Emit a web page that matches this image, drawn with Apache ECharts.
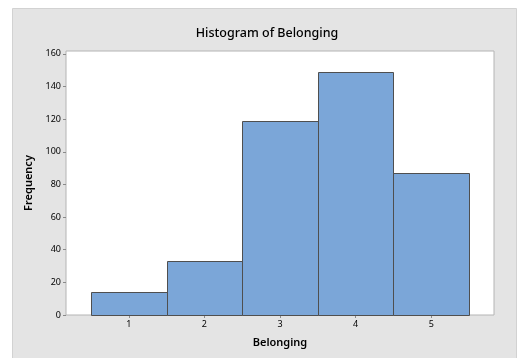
<!DOCTYPE html>
<html>
<head>
<meta charset="utf-8">
<script src="https://cdn.jsdelivr.net/npm/echarts@6/dist/echarts.min.js"></script>
<style>
  html, body { margin: 0; padding: 0; background: #ffffff; }
  #chart { width: 521px; height: 358px; }
</style>
</head>
<body>
<div id="chart"></div>
<script>
// Histogram of Belonging scores (1–5) with frequency counts
const belongingBins = [1, 2, 3, 4, 5];
const frequencies = [14, 33, 119, 149, 87];
const yTickValues = [0, 20, 40, 60, 80, 100, 120, 140, 160];

const FONT = '"Noto Sans", "Open Sans", sans-serif';
const chart = echarts.init(document.getElementById('chart'), null, { renderer: 'canvas' });

chart.setOption({
  animation: false,
  backgroundColor: '#ffffff',
  graphic: [{
    type: 'rect',
    z: -10,
    shape: { x: 12.5, y: 8.5, width: 504, height: 360 },
    style: { fill: '#e4e4e4', stroke: '#d2d2d2', lineWidth: 1 }
  }],
  title: {
    text: 'Histogram of Belonging',
    left: 262,
    textAlign: 'center',
    top: 22,
    textStyle: { fontFamily: FONT, fontSize: 12.5, fontWeight: 500, color: '#000000' }
  },
  grid: {
    left: 66, right: 27, top: 51, bottom: 43,
    show: true,
    backgroundColor: '#ffffff',
    borderColor: '#b4b4b4',
    borderWidth: 1
  },
  xAxis: {
    type: 'value',
    min: 0.17,
    max: 5.83,
    name: 'Belonging',
    nameLocation: 'middle',
    nameGap: 22,
    nameTextStyle: { fontFamily: FONT, fontSize: 11, fontWeight: 600, color: '#000000' },
    axisLine: { show: false },
    splitLine: { show: false },
    axisTick: { show: true, length: 3, customValues: belongingBins, lineStyle: { color: '#8a8a8a' } },
    axisLabel: {
      customValues: belongingBins,
      fontFamily: FONT, fontSize: 9, color: '#000000', margin: 5
    }
  },
  yAxis: {
    type: 'value',
    min: 0,
    max: 161.8,
    name: 'Frequency',
    nameLocation: 'middle',
    nameGap: 30,
    nameTextStyle: { fontFamily: FONT, fontSize: 11, fontWeight: 600, color: '#000000' },
    axisLine: { show: false },
    splitLine: { show: false },
    axisTick: { show: true, length: 3, customValues: yTickValues, lineStyle: { color: '#8a8a8a' } },
    axisLabel: {
      customValues: yTickValues,
      fontFamily: FONT, fontSize: 9, color: '#000000', margin: 5
    }
  },
  series: [{
    type: 'custom',
    data: belongingBins.map((b, i) => [b, frequencies[i]]),
    renderItem: function (params, api) {
      const x = api.value(0);
      const y = api.value(1);
      const topLeft = api.coord([x - 0.5, y]);
      const bottomRight = api.coord([x + 0.5, 0]);
      return {
        type: 'rect',
        shape: {
          x: Math.round(topLeft[0]) + 0.5,
          y: Math.round(topLeft[1]) + 0.5,
          width: Math.round(bottomRight[0]) - Math.round(topLeft[0]),
          height: Math.round(bottomRight[1]) - Math.round(topLeft[1])
        },
        style: { fill: '#7ba6d8', stroke: '#4f4f4f', lineWidth: 1 }
      };
    }
  }]
});
</script>
</body>
</html>
